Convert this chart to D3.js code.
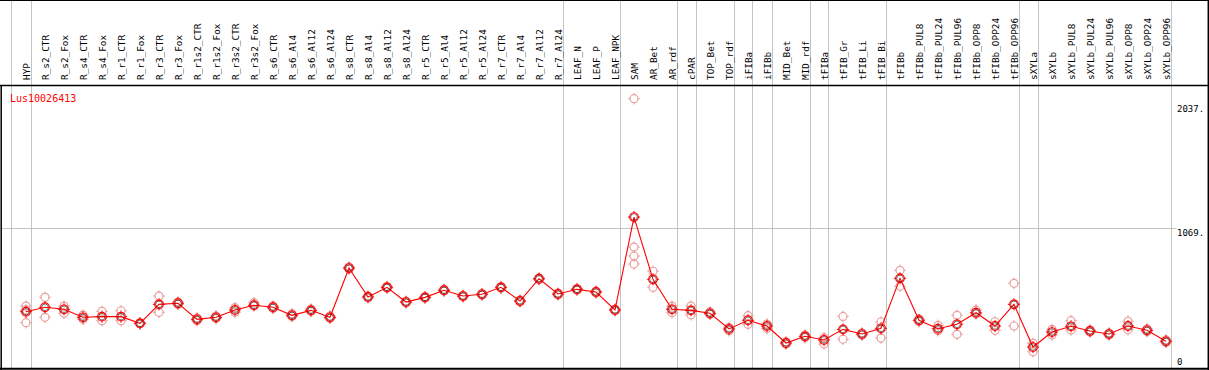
<!DOCTYPE html>
<html>
<head>
<meta charset="utf-8">
<script src="https://d3js.org/d3.v7.min.js"></script>
<style>
body{margin:0;padding:0;background:#fff;}
text{font-family:"DejaVu Sans Mono",monospace;}
</style>
</head>
<body>
<script>
var gene="Lus10026413"
var samples=["HYP","R_s2_CTR","R_s2_Fox","R_s4_CTR","R_s4_Fox","R_r1_CTR","R_r1_Fox","R_r3_CTR","R_r3_Fox",
  "R_r1s2_CTR","R_r1s2_Fox","R_r3s2_CTR","R_r3s2_Fox","R_s6_CTR","R_s6_Al4","R_s6_Al12","R_s6_Al24",
  "R_s8_CTR","R_s8_Al4","R_s8_Al12","R_s8_Al24","R_r5_CTR","R_r5_Al4","R_r5_Al12","R_r5_Al24",
  "R_r7_CTR","R_r7_Al4","R_r7_Al12","R_r7_Al24","LEAF_N","LEAF_P","LEAF_NPK","SAM","AR_Bet","AR_rdf",
  "cPAR","TOP_Bet","TOP_rdf","iFIBa","iFIBb","MID_Bet","MID_rdf","tFIBa","tFIB_Gr","tFIB_Li","tFIB_Bi",
  "tFIBb","tFIBb_PUL8","tFIBb_PUL24","tFIBb_PUL96","tFIBb_OPP8","tFIBb_OPP24","tFIBb_OPP96",
  "sXYLa","sXYLb","sXYLb_PUL8","sXYLb_PUL24","sXYLb_PUL96","sXYLb_OPP8","sXYLb_OPP24","sXYLb_OPP96"]
// mean expression per sample
var means=[446,479,464,404,409,409,359,501,509,389,404,459,494,479,419,456,404,
  772,556,628,518,553,606,563,576,628,526,692,578,613,593,459,1153,688,464,
  456,434,317,382,339,212,262,235,314,279,322,
  695,382,319,352,438,339,501,182,294,337,302,279,339,307,225]
// replicate values per sample
var reps=[[488,459,364],[553,404],[488,434],[421,389],[449,379],[453,379],[362,356],[563,441],[518,500],
  [399,379],[414,395],[476,441],[513,494],[488,470],[429,410],[466,447],[414,395],
  [780,764],[562,550],[634,622],[524,512],[559,547],[612,600],[569,557],[582,570],[634,622],[532,520],[698,686],[584,572],
  [619,607],[599,587],[465,453],[2037,929,862,802],[748,628],[488,438],
  [488,423],[444,425],[328,304],[416,352],[354,320],[220,205],[272,253],[252,205],[411,240],[287,272],[369,249],
  [755,636],[391,373],[344,304],[419,277],[459,429],[371,307],[658,339],[210,147],[314,272],[379,309],[309,294],[287,272],[374,311],[317,298],[235,216]]
// last sample index of each group (vertical separators)
var groupEnds=[-1,0,28,31,34,35,37,38,39,41,42,45,52,53,60]
var yTicks=[0,1069,2037]

var W=1209,H=370
var svg=d3.select("body").append("svg").attr("width",W).attr("height",H)
var x=d3.scaleLinear().domain([0,samples.length-1]).range([26,1166])
var y=d3.scaleLinear().domain([0,2037]).range([371.4,98.7])

// group separators
svg.selectAll(".sep").data(groupEnds).enter().append("line")
  .attr("x1",function(d){return Math.round(x(d)+4.5)+0.5})
  .attr("x2",function(d){return Math.round(x(d)+4.5)+0.5})
  .attr("y1",0).attr("y2",369)
  .attr("stroke","#c4c4c4").attr("stroke-width",1)

// horizontal grid at middle tick
svg.selectAll(".hgrid").data(yTicks.filter(function(d){return d>0&&d<2037})).enter().append("line")
  .attr("x1",1).attr("x2",1176)
  .attr("y1",function(d){return Math.round(y(d))+0.5})
  .attr("y2",function(d){return Math.round(y(d))+0.5})
  .attr("stroke","#c4c4c4")

// borders
svg.append("line").attr("x1",0).attr("x2",W).attr("y1",0.5).attr("y2",0.5).attr("stroke","#000")
svg.append("line").attr("x1",0).attr("x2",W).attr("y1",85.5).attr("y2",85.5).attr("stroke","#000").attr("stroke-width",1.3)
svg.append("line").attr("x1",0).attr("x2",W).attr("y1",368.8).attr("y2",368.8).attr("stroke","#000").attr("stroke-width",2)
svg.append("line").attr("x1",1.2).attr("x2",1.2).attr("y1",85).attr("y2",H).attr("stroke","#000").attr("stroke-width",1.5)
svg.append("line").attr("x1",1208.3).attr("x2",1208.3).attr("y1",0).attr("y2",H).attr("stroke","#000").attr("stroke-width",1.5)

// column labels
svg.selectAll(".lab").data(samples).enter().append("text")
  .attr("transform",function(d,i){return "translate("+(x(i)+3.5)+",80) rotate(-90)"})
  .attr("font-size","9.4px").attr("fill","#000")
  .text(function(d){return d})

// y labels
svg.selectAll(".ylab").data(yTicks).enter().append("text")
  .attr("x",1177)
  .attr("y",function(d){return Math.min(Math.max(y(d)+8,111.5),365)})
  .attr("font-size","9px")
  .text(function(d){return d==0?"0":d+"."})

svg.append("text").attr("x",10).attr("y",101.5).attr("font-size","10px").attr("fill","#ff0000").text(gene)

var marker=function(g,cx,cy,col,r){
  g.append("circle").attr("cx",cx).attr("cy",cy).attr("r",r).attr("fill","none").attr("stroke",col).attr("stroke-width",1.2)
  var t=[[0,-1],[0,1],[-1,0],[1,0]]
  t.forEach(function(v){
    g.append("line").attr("x1",cx+v[0]*(r-0.5)).attr("y1",cy+v[1]*(r-0.5))
      .attr("x2",cx+v[0]*(r+1.8)).attr("y2",cy+v[1]*(r+1.8))
      .attr("stroke",col).attr("stroke-width",1)
  })
}

// replicates
var repG=svg.append("g")
reps.forEach(function(arr,i){
  arr.forEach(function(v){marker(repG,x(i),y(v),"#e8a0a0",4)})
})

// mean line
var line=d3.line().x(function(d,i){return x(i)}).y(function(d){return y(d)})
svg.append("path").datum(means).attr("d",line).attr("fill","none").attr("stroke","#ff0000").attr("stroke-width",1.1)

var meanG=svg.append("g")
means.forEach(function(v,i){
  meanG.append("circle").attr("cx",x(i)).attr("cy",y(v)).attr("r",3.3).attr("fill","none").attr("stroke","#000").attr("stroke-width",0.7).attr("stroke-opacity",0.8)
  marker(meanG,x(i),y(v),"#ff0000",4.3)
})
</script>
</body>
</html>
